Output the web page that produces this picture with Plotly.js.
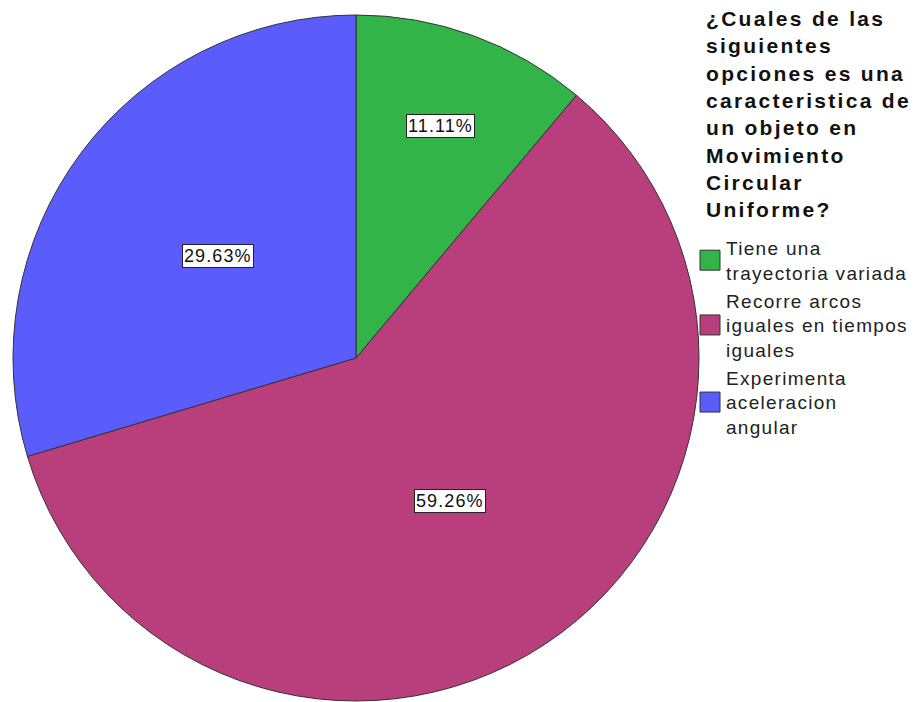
<!DOCTYPE html>
<html>
<head>
<meta charset="utf-8">
<script src="https://cdn.plot.ly/plotly-3.0.1.min.js"></script>
<style>
html,body{margin:0;padding:0;background:#fff;}
#chart{width:923px;height:702px;}
.legendtext{letter-spacing:1.3px;}
.annotation-text{letter-spacing:1.1px;}
.annotation[data-index="3"] .annotation-text{letter-spacing:2.3px;}
</style>
</head>
<body>
<div id="chart"></div>
<script>
const categories = [
  "Tiene una<br>trayectoria variada",
  "Recorre arcos<br>iguales en tiempos<br>iguales",
  "Experimenta<br>aceleracion<br>angular"
];
const counts = [3, 16, 8];
const colors = ["#33b449", "#b83f7c", "#5b5cfc"];
const legendTitle = "¿Cuales de las<br>siguientes<br>opciones es una<br>caracteristica de<br>un objeto en<br>Movimiento<br>Circular<br>Uniforme?";

const W = 923, H = 702;
const cxPx = 356, cyPx = 358, rPx = 343;
const domX = [(cxPx - rPx) / W, (cxPx + rPx) / W];
const domY = [(H - cyPx - rPx) / H, (H - cyPx + rPx) / H];
const FONT = "Liberation Sans, Arial, sans-serif";

const total = counts.reduce((a, b) => a + b, 0);
const annotations = [];
let cum = 0;
counts.forEach((v, i) => {
  const frac = v / total;
  const theta = 2 * Math.PI * (cum + frac / 2);
  cum += frac;
  const k = frac < 0.15 ? 0.72 : 0.5;
  const x = (cxPx + k * rPx * Math.sin(theta)) / W;
  const y = (H - cyPx + k * rPx * Math.cos(theta)) / H;
  annotations.push({
    x: x, y: y, xref: "paper", yref: "paper",
    xanchor: "center", yanchor: "middle",
    text: (frac * 100).toFixed(2) + "%",
    showarrow: false,
    font: {family: FONT, size: 18, color: "#111"},
    bgcolor: "#ffffff", bordercolor: "#222", borderwidth: 1, borderpad: 1
  });
});
// legend heading
annotations.push({
  x: 704 / W, y: 1 - 5 / H, xref: "paper", yref: "paper",
  xanchor: "left", yanchor: "top", align: "left",
  text: "<b>" + legendTitle + "</b>",
  showarrow: false,
  font: {family: FONT, size: 21, color: "#111"}
});

const data = [{
  type: "pie",
  labels: categories,
  values: counts,
  sort: false,
  direction: "clockwise",
  rotation: 0,
  marker: {colors: colors, line: {color: "#333", width: 1}},
  textinfo: "none",
  hoverinfo: "label+percent",
  domain: {x: domX, y: domY}
}];

const layout = {
  width: W, height: H,
  margin: {l: 0, r: 0, t: 0, b: 0},
  paper_bgcolor: "#fff",
  showlegend: true,
  legend: {
    x: 686 / W, xanchor: "left", y: 1 - 229 / H, yanchor: "top",
    font: {family: FONT, size: 19, color: "#222"},
    tracegroupgap: 0, itemwidth: 30,
    bgcolor: "rgba(0,0,0,0)"
  },
  annotations: annotations
};

Plotly.newPlot("chart", data, layout, {displayModeBar: false, staticPlot: true}).then(gd => {
  gd.querySelectorAll("path.legendpie").forEach(p => {
    p.setAttribute("d", "M14,10H-6V-10H14Z");
    p.style.strokeWidth = "1px";
    p.style.stroke = "#333";
  });
});
</script>
</body>
</html>
